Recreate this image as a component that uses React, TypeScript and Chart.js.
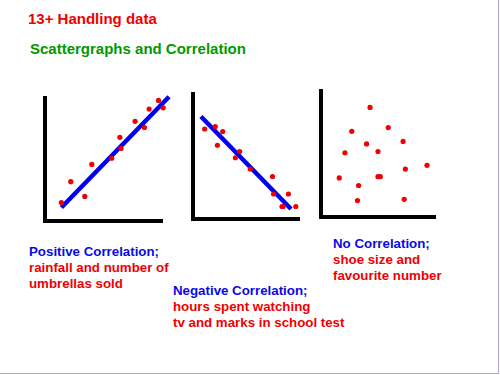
import React, { useEffect, useRef } from "react";
import { Chart, registerables } from "chart.js";

Chart.register(...registerables);

// Positive correlation (rainfall vs umbrellas sold)
const posX = [1.4, 2.2, 3.4, 4.0, 5.7, 6.4, 6.5, 7.7, 8.5, 8.9, 9.7, 10.1];
const posY = [1.5, 3.2, 2.0, 4.6, 5.1, 6.8, 5.9, 8.1, 7.6, 9.1, 9.8, 9.2];
const posLineX = [1.4, 10.6];
const posLineY = [1.1, 10.1];

// Negative correlation (tv hours vs test marks)
const negX = [1.1, 2.1, 2.8, 2.3, 4.4, 4.0, 5.4, 7.5, 7.6, 9.0, 8.4, 8.5, 9.7];
const negY = [7.2, 7.4, 7.0, 5.9, 5.4, 4.9, 4.0, 3.4, 2.0, 2.0, 1.0, 1.0, 1.0];
const negLineX = [0.75, 9.25];
const negLineY = [8.2, 0.8];

// No correlation (shoe size vs favourite number)
const noneX = [4.3, 5.9, 2.7, 4.0, 7.2, 2.1, 5.0, 9.3, 7.4, 1.6, 5.0, 5.2, 3.3, 3.2, 7.3];
const noneY = [8.7, 7.1, 6.8, 5.8, 6.0, 5.1, 5.2, 4.1, 3.8, 3.1, 3.2, 3.2, 2.5, 1.3, 1.4];

const RED = "#f00000";
const BLUE = "#0000f0";

type Pad = { left: number; top: number; right: number; bottom: number };

function pts(xs: number[], ys: number[]) {
  return xs.map((x, i) => ({ x, y: ys[i] }));
}

function Scatter(props: {
  left: number; top: number; width: number; height: number; pad: Pad;
  xs: number[]; ys: number[]; lx?: number[]; ly?: number[];
}) {
  const ref = useRef<HTMLCanvasElement | null>(null);
  useEffect(() => {
    if (!ref.current) return;
    const datasets: any[] = [
      {
        type: "scatter",
        data: pts(props.xs, props.ys),
        backgroundColor: RED,
        borderWidth: 0,
        pointRadius: 2.6,
        clip: false,
        order: 0,
      },
    ];
    if (props.lx && props.ly) {
      datasets.push({
        type: "line",
        data: pts(props.lx, props.ly),
        borderColor: BLUE,
        borderWidth: 4.5,
        pointRadius: 0,
        clip: false,
        order: 1,
      });
    }
    const axis = (pos: string) => ({
      type: "linear",
      position: pos,
      min: 0,
      max: 10,
      grid: { display: false, drawTicks: false },
      border: { display: true, color: "#000", width: 4 },
      ticks: { display: false },
    });
    const chart = new Chart(ref.current, {
      type: "scatter",
      data: { datasets },
      options: {
        responsive: false,
        animation: false,
        layout: { padding: props.pad },
        plugins: { legend: { display: false }, tooltip: { enabled: false } },
        scales: { x: axis("bottom") as any, y: axis("left") as any },
      },
    } as any);
    return () => chart.destroy();
  }, []);
  return (
    <canvas
      ref={ref}
      width={props.width}
      height={props.height}
      style={{ position: "absolute", left: props.left, top: props.top, width: props.width, height: props.height }}
    />
  );
}

const textBase: React.CSSProperties = {
  position: "absolute",
  fontFamily: "'Liberation Sans', Arial, sans-serif",
  fontWeight: "bold",
  whiteSpace: "nowrap",
  margin: 0,
};

export default function App() {
  return (
    <div style={{ position: "absolute", left: 0, top: 0, width: 500, height: 375, background: "#fff", overflow: "hidden" }}>
      <div style={{ ...textBase, left: 28, top: 9.5, fontSize: 15, lineHeight: "18px", color: "#f00000" }}>13+ Handling data</div>
      <div style={{ ...textBase, left: 30, top: 39.5, fontSize: 15, lineHeight: "18px", color: "#009a00" }}>Scattergraphs and Correlation</div>

      <Scatter left={30} top={85} width={150} height={150} pad={{ left: 15, top: 13, right: 18, bottom: 14 }}
        xs={posX} ys={posY} lx={posLineX} ly={posLineY} />
      <Scatter left={180} top={85} width={130} height={150} pad={{ left: 13, top: 9, right: 11, bottom: 16 }}
        xs={negX} ys={negY} lx={negLineX} ly={negLineY} />
      <Scatter left={310} top={85} width={140} height={150} pad={{ left: 11, top: 6, right: 15, bottom: 18 }}
        xs={noneX} ys={noneY} />

      <div style={{ ...textBase, left: 29, top: 244, fontSize: 13.3, lineHeight: "16px" }}>
        <div style={{ color: "#0a0ae6" }}>Positive Correlation;</div>
        <div style={{ color: "#f00000" }}>rainfall and number of</div>
        <div style={{ color: "#f00000" }}>umbrellas sold</div>
      </div>
      <div style={{ ...textBase, left: 173, top: 283, fontSize: 13.3, lineHeight: "16px" }}>
        <div style={{ color: "#0a0ae6" }}>Negative Correlation;</div>
        <div style={{ color: "#f00000" }}>hours spent watching</div>
        <div style={{ color: "#f00000" }}>tv and marks in school test</div>
      </div>
      <div style={{ ...textBase, left: 333, top: 236, fontSize: 13.3, lineHeight: "16px" }}>
        <div style={{ color: "#0a0ae6" }}>No Correlation;</div>
        <div style={{ color: "#f00000" }}>shoe size and</div>
        <div style={{ color: "#f00000" }}>favourite number</div>
      </div>

      <div style={{ position: "absolute", left: 498, top: 0, width: 1, height: 374, background: "#a8a8e0" }} />
      <div style={{ position: "absolute", left: 0, top: 373, width: 499, height: 1, background: "#a8a8e0" }} />
    </div>
  );
}
